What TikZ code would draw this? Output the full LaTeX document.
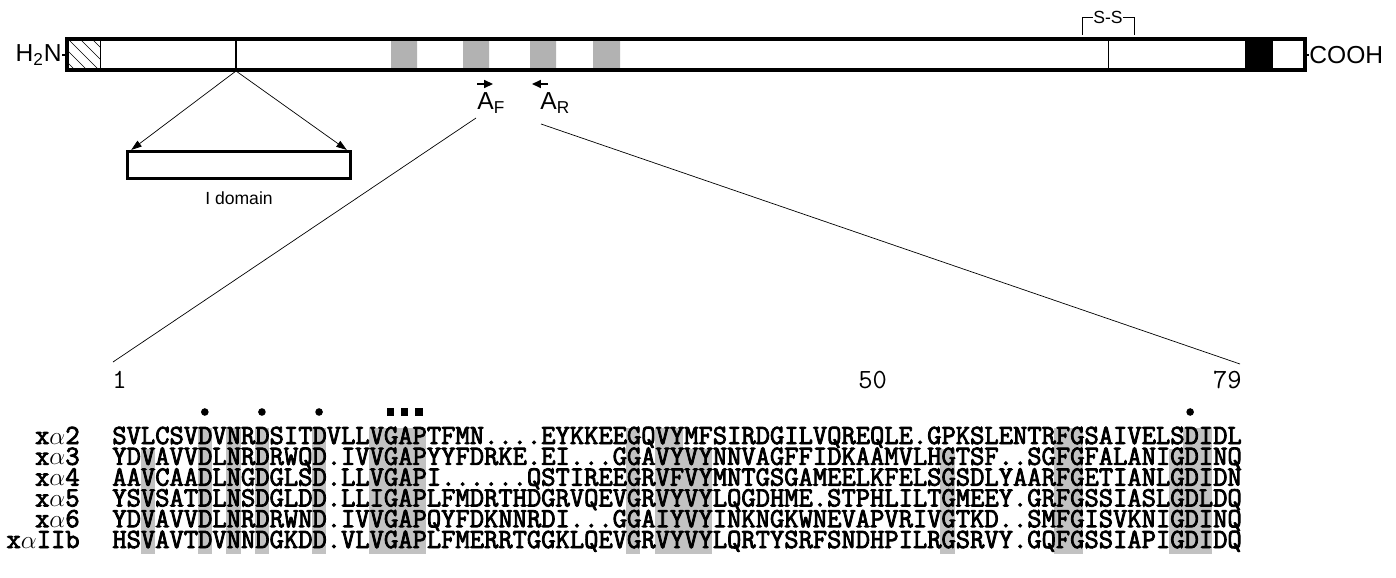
\documentclass[tikz,border=0pt]{standalone}
\usepackage{fontspec}
\setmainfont{Liberation Sans}
\newfontfamily\seqfont{Latin Modern Mono}[FakeBold=3]
\newfontfamily\numfont{Latin Modern Mono}
\usetikzlibrary{positioning,arrows.meta}

\def\cw{14.28}
% aligned sequences
\def\sqa{SVLCSVDVNRDSITDVLLVGAPTFMN....EYKKEEGQVYMFSIRDGILVQREQLE.GPKSLENTRFGSAIVELSDIDL}
\def\sqb{YDVAVVDLNRDRWQD.IVVGAPYYFDRKE.EI...GGAVYVYNNVAGFFIDKAAMVLHGTSF..SGFGFALANIGDINQ}
\def\sqc{AAVCAADLNGDGLSD.LLVGAPI......QSTIREEGRVFVYMNTGSGAMEELKFELSGSDLYAARFGETIANLGDIDN}
\def\sqd{YSVSATDLNSDGLDD.LLIGAPLFMDRTHDGRVQEVGRVYVYLQGDHME.STPHLILTGMEEY.GRFGSSIASLGDLDQ}
\def\sqe{YDVAVVDLNRDRWND.IVVGAPQYFDKNNRDI...GGAIYVYINKNGKWNEVAPVRIVGTKD..SMFGISVKNIGDINQ}
\def\sqf{HSVAVTDVNNDGKDD.VLVGAPLFMERRTGGKLQEVGRVYVYLQRTYSRFSNDHPILRGSRVY.GQFGSSIAPIGDIDQ}

\begin{document}
\begin{tikzpicture}[x=0.02cm,y=-0.02cm,
	lab/.style={font=\fontsize{14}{16}\selectfont,inner sep=0},
	small/.style={font=\fontsize{10}{12}\selectfont,inner sep=0},
	seqtext/.style={font=\seqfont\fontsize{15.8}{18}\selectfont,inner sep=0},
	numtext/.style={font=\numfont\fontsize{15.8}{18}\selectfont,inner sep=0},
	cons/.style={fill=black!24},
	boxline/.style={line width=1.8pt},
	tip/.style={-{Triangle[length=6pt,width=4pt]}}]
	\useasboundingbox (0,0) rectangle (1396,578);

	% protein bar
	\fill[black!30] foreach \a/\b in {391/417,463/489,530/556,593/620} {(\a,39) rectangle (\b,70)};
	\fill (1245,39) rectangle (1273,70);
	\begin{scope}
		\clip (67,39) rectangle (100,70);
		\foreach \i in {44,56,...,104} \draw[thin] (\i,39) -- ++(31,31);
	\end{scope}
	\draw (100,39) -- (100,70);
	\draw[thin] (1108,39) -- (1108,70);
	\draw[line width=1.5pt] (236,39) -- (236,70);
	\draw[boxline] (67,39) rectangle (1305,70);
	\node[lab,anchor=east] (nterm) at (62,55) {H\textsubscript{2}N};
	\draw[thick] (nterm.east) -- (67,55);
	\node[lab,anchor=west] (cterm) at (1309,55) {COOH};
	\draw[thick] (1305,55) -- (cterm.west);

	% disulfide
	\node[small] (ss) at (1108,17) {S-S};
	\draw (ss.west) -- (1082,17) -- (1082,35);
	\draw (ss.east) -- (1134,17) -- (1134,35);

	% I domain
	\coordinate (split) at (236,71);
	\node[draw,boxline,minimum width=4.46cm,minimum height=0.54cm,inner sep=0] (idom) at (239,165) {};
	\node[small,below=0.22cm of idom] (idlab) {I domain};
	\draw[tip] (split) -- ([xshift=3pt]idom.north west);
	\draw[tip] (split) -- ([xshift=-3pt]idom.north east);

	% primers
	\draw[thick,-{Triangle[length=5pt,width=4.5pt]}] (477,84) -- (493,84);
	\draw[thick,-{Triangle[length=5pt,width=4.5pt]}] (548,84) -- (532,84);
	\node[lab,anchor=north west] (af) at (477,92) {A\textsubscript{F}};
	\node[lab,anchor=north west] (ar) at (540,92) {A\textsubscript{R}};
	\coordinate (zl) at (476,118);
	\coordinate (zr) at (541,124);
	\coordinate (sl) at (113,362);
	\coordinate (sr) at (1240,364);
	\draw[thin] (zl) -- (sl);
	\draw[thin] (zr) -- (sr);

	% alignment
	\foreach \c/\w/\r in {3/1/2,7/1/1,9/1/1,11/1/1,15/1/1,19/4/1,37/1/1,39/2/1,41/2/2,
		59/1/2,67/2/1,75/1/2,76/2/1}
		\fill[cons] ({112+(\c-1)*\cw},{428+(\r-1)*20.8}) rectangle ({112+(\c-1+\w)*\cw},554);
	\node[numtext,anchor=base west] (n1) at (112,388) {1};
	\node[numtext,anchor=base west] (n50) at (858,388) {50};
	\node[numtext,anchor=base east] (n79) at (1242,388) {79};
	\foreach \c in {7,11,15,76} \fill ({112+(\c-0.5)*\cw},412) circle (3.8);
	\foreach \c in {20,21,22} \fill ({112+(\c-0.5)*\cw-3.6},408.4) rectangle ++(7.2,7.2);
	\foreach \lab/\seq [count=\r] in {x$\alpha$2/\sqa,x$\alpha$3/\sqb,x$\alpha$4/\sqc,
		x$\alpha$5/\sqd,x$\alpha$6/\sqe,x$\alpha$IIb/\sqf} {
		\node[seqtext,anchor=base east] (lab\r) at (80,{444+(\r-1)*20.8}) {\lab};
		\node[seqtext,anchor=base west] (row\r) at (112,{444+(\r-1)*20.8}) {\seq};
	}
\end{tikzpicture}
\end{document}
